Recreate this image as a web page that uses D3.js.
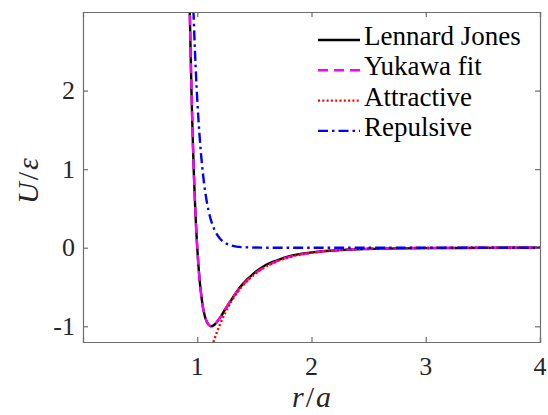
<!DOCTYPE html>

<html>

<head>
    <title>Lennard Jones vs Yukawa</title>

    <style type="text/css">
        body {
            margin: 0;
            background: #fff;
        }
        svg text {
            font-family: "Liberation Serif", "Times New Roman", serif;
            fill: #262626;
        }
        .tick-label {
            font-size: 26px;
        }
        .legend-label {
            font-size: 27px;
            fill: #000;
        }
        .axis-label {
            font-size: 30px;
        }
    </style>
</head>

<body>

    <script src="https://d3js.org/d3.v7.min.js" type="text/javascript"></script>
    <script type="text/javascript">

        // values
        var rLJ = [0.93, 0.94, 0.95, 0.96, 0.97, 0.98, 0.99, 1.0, 1.01, 1.02, 1.03, 1.04, 1.05, 1.06, 1.07, 1.08, 1.09, 1.1, 1.1225, 1.15, 1.175, 1.2, 1.25, 1.3, 1.35, 1.4, 1.5, 1.6, 1.7, 1.8, 2.0, 2.25, 2.5, 3.0, 3.5, 4.0];
        var uLJ = [3.37, 2.61, 1.96, 1.42, 0.96, 0.58, 0.26, 0, -0.22, -0.40, -0.54, -0.66, -0.76, -0.83, -0.89, -0.93, -0.96, -0.98, -1.0, -0.98, -0.94, -0.89, -0.77, -0.66, -0.55, -0.46, -0.32, -0.22, -0.16, -0.11, -0.06, -0.03, -0.016, -0.005, -0.002, -0.001];

        var rYuk = rLJ;
        var uYuk = [3.37, 2.61, 1.96, 1.42, 0.96, 0.58, 0.26, 0, -0.22, -0.40, -0.54, -0.66, -0.76, -0.83, -0.89, -0.93, -0.96, -0.98, -1.0, -0.98, -0.94, -0.89, -0.77, -0.655, -0.556, -0.472, -0.335, -0.24, -0.17, -0.12, -0.064, -0.028, -0.013, -0.003, -0.001, 0];

        var rAttr = [1.13, 1.15, 1.2, 1.25, 1.3, 1.35, 1.4, 1.5, 1.6, 1.7, 1.8, 2.0, 2.25, 2.5, 3.0, 3.5, 4.0];
        var uAttr = [-1.254, -1.165, -0.972, -0.813, -0.680, -0.570, -0.479, -0.339, -0.241, -0.172, -0.123, -0.064, -0.028, -0.013, -0.003, -0.001, 0];

        var rRep = [0.955, 0.96, 0.97, 0.98, 0.99, 1.0, 1.02, 1.04, 1.06, 1.08, 1.1, 1.12, 1.15, 1.2, 1.25, 1.3, 1.4, 1.6, 2.0, 3.0, 4.0];
        var uRep = [3.55, 3.31, 2.88, 2.50, 2.17, 1.89, 1.43, 1.08, 0.816, 0.617, 0.466, 0.352, 0.232, 0.115, 0.057, 0.028, 0.007, 0.0004, 0, 0, 0];

        var xTicks = [1, 2, 3, 4];
        var yTicks = [-1, 0, 1, 2];
        var legendLabels = ['Lennard Jones', 'Yukawa fit', 'Attractive', 'Repulsive'];

        var series = [
            { name: legendLabels[0], r: rLJ, u: uLJ, color: '#000000', dash: null },
            { name: legendLabels[1], r: rYuk, u: uYuk, color: '#ff00ff', dash: '10,6' },
            { name: legendLabels[2], r: rAttr, u: uAttr, color: '#ff0000', dash: '2,2.3' },
            { name: legendLabels[3], r: rRep, u: uRep, color: '#0000ff', dash: '10,4,2.5,4' }
        ];

        // plot box (window.top is read-only, so no "top" here)
        var boxL = 83, boxR = 540, boxT = 12, boxB = 342;

        var x = d3.scaleLinear().domain([0, 4]).range([boxL, boxR]);
        var y = d3.scaleLinear().domain([-1.2, 3]).range([boxB, boxT]);

        var svg = d3.select('body').append('svg')
            .attr('width', 548)
            .attr('height', 415);

        svg.append('defs').append('clipPath')
            .attr('id', 'plot-clip')
            .append('rect')
            .attr('x', boxL)
            .attr('y', boxT)
            .attr('width', boxR - boxL)
            .attr('height', boxB - boxT);

        // curves
        var line = d3.line()
            .x(function (d) { return x(d[0]); })
            .y(function (d) { return y(d[1]); })
            .curve(d3.curveMonotoneX);

        svg.append('g')
            .attr('clip-path', 'url(#plot-clip)')
            .selectAll('path')
            .data(series)
            .enter()
            .append('path')
            .attr('d', function (s) { return line(d3.zip(s.r, s.u)); })
            .attr('fill', 'none')
            .attr('stroke', function (s) { return s.color; })
            .attr('stroke-width', 2.4)
            .attr('stroke-dasharray', function (s) { return s.dash; });

        // box with inward ticks on all sides
        var axisColor = '#6e6e6e';
        var tickLen = 5;

        svg.append('g')
            .attr('transform', 'translate(0,' + boxB + ')')
            .call(d3.axisBottom(x).tickValues(xTicks).tickSize(-tickLen).tickFormat(''));
        svg.append('g')
            .attr('transform', 'translate(0,' + boxT + ')')
            .call(d3.axisTop(x).tickValues(xTicks).tickSize(-tickLen).tickFormat(''));
        svg.append('g')
            .attr('transform', 'translate(' + boxL + ',0)')
            .call(d3.axisLeft(y).tickValues(yTicks).tickSize(-tickLen).tickFormat(''));
        svg.append('g')
            .attr('transform', 'translate(' + boxR + ',0)')
            .call(d3.axisRight(y).tickValues(yTicks).tickSize(-tickLen).tickFormat(''));

        svg.selectAll('.domain, .tick line')
            .attr('stroke', axisColor)
            .attr('stroke-width', 1.2);

        // tick labels
        svg.append('g').selectAll('text')
            .data(xTicks)
            .enter()
            .append('text')
            .attr('class', 'tick-label')
            .attr('x', function (d) { return x(d); })
            .attr('y', 375)
            .attr('text-anchor', 'middle')
            .text(function (d) { return d; });

        svg.append('g').selectAll('text')
            .data(yTicks)
            .enter()
            .append('text')
            .attr('class', 'tick-label')
            .attr('x', 75)
            .attr('y', function (d) { return y(d); })
            .attr('dy', '0.33em')
            .attr('text-anchor', 'end')
            .text(function (d) { return d; });

        // axis labels
        var xl = svg.append('text')
            .attr('class', 'axis-label')
            .attr('x', (boxL + boxR) / 2)
            .attr('y', 407)
            .attr('text-anchor', 'middle');
        xl.append('tspan').attr('font-style', 'italic').text('r');
        xl.append('tspan').attr('dx', 2).text('/');
        xl.append('tspan').attr('dx', 2).attr('font-style', 'italic').text('a');

        var yl = svg.append('text')
            .attr('class', 'axis-label')
            .attr('transform', 'translate(38,181) rotate(-90)')
            .attr('text-anchor', 'middle');
        yl.append('tspan').attr('font-style', 'italic').text('U');
        yl.append('tspan').attr('dx', 2).text('/');
        yl.append('tspan').attr('dx', 2).attr('font-style', 'italic').text('\u03b5');

        // legend
        var legend = svg.append('g').selectAll('g')
            .data(series)
            .enter()
            .append('g')
            .attr('transform', function (d, i) { return 'translate(0,' + (40 + i * 30.3) + ')'; });

        legend.append('line')
            .attr('x1', 318)
            .attr('x2', 360)
            .attr('y1', 0)
            .attr('y2', 0)
            .attr('stroke', function (s) { return s.color; })
            .attr('stroke-width', 2.4)
            .attr('stroke-dasharray', function (s) { return s.dash; });

        legend.append('text')
            .attr('class', 'legend-label')
            .attr('x', 364)
            .attr('y', 5)
            .text(function (s) { return s.name; });

    </script>

</body>

</html>
